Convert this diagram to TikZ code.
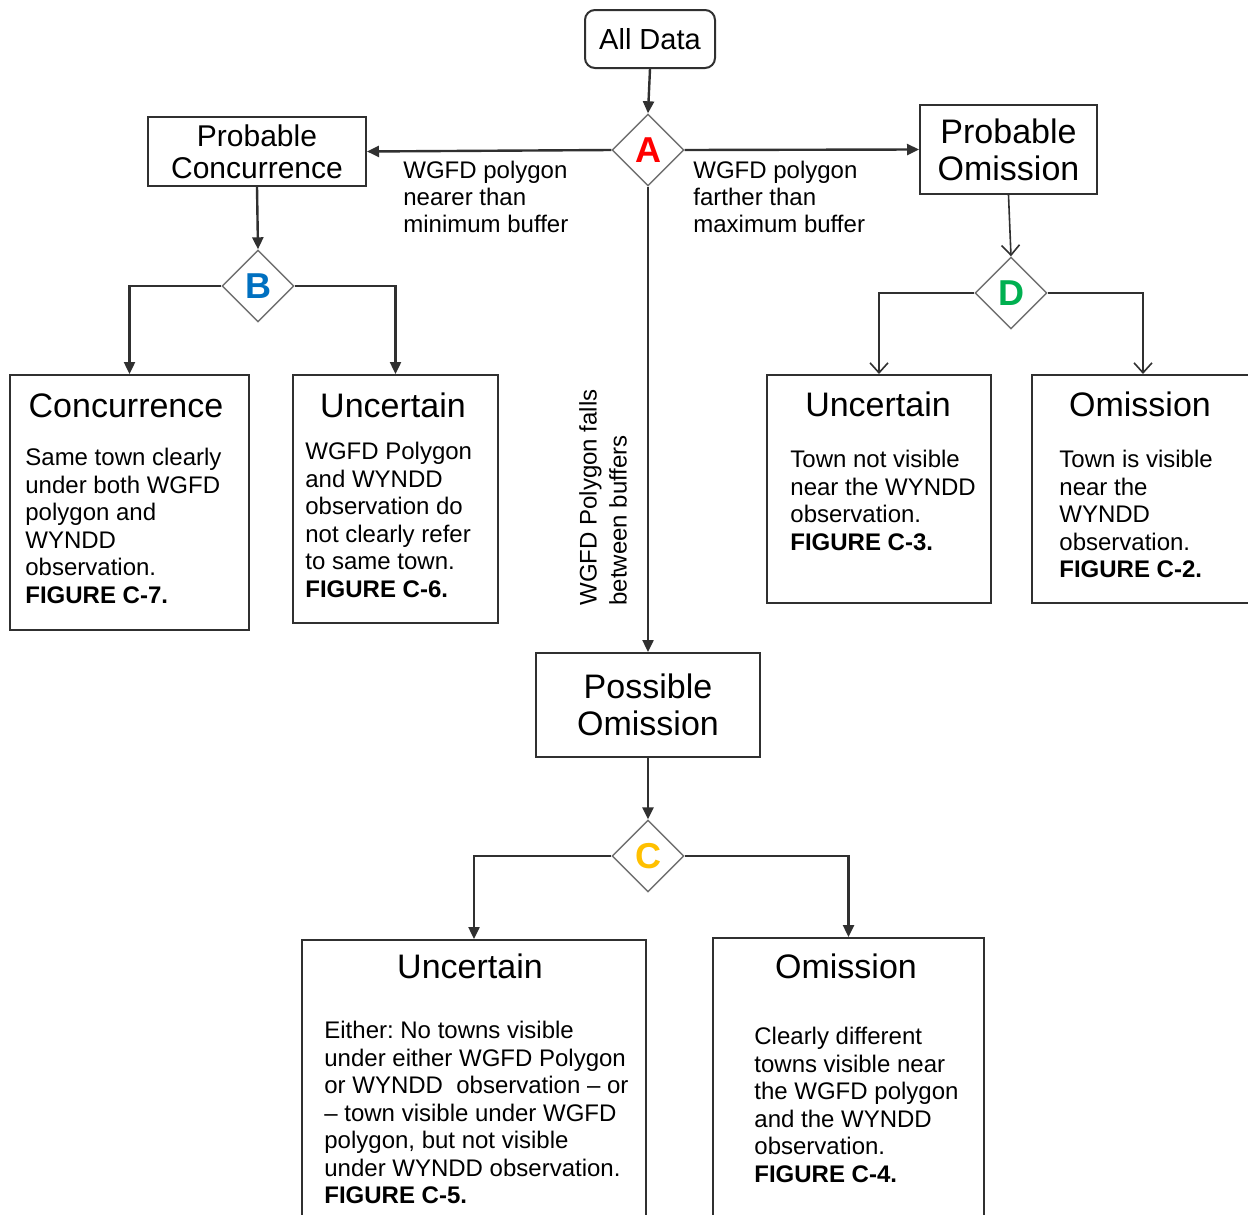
\documentclass[tikz,border=0pt]{standalone}
\usepackage{fontspec}
\setmainfont{Liberation Sans}
\usetikzlibrary{shapes.geometric,arrows.meta}
\definecolor{linec}{HTML}{303030}
\definecolor{boxc}{HTML}{303030}
\definecolor{diac}{HTML}{707070}
\definecolor{cA}{HTML}{FF0000}
\definecolor{cB}{HTML}{0070C0}
\definecolor{cC}{HTML}{FFC000}
\definecolor{cD}{HTML}{00B050}
\frenchspacing
\begin{document}
\begin{tikzpicture}[x=0.5pt,y=-0.5pt,
  box/.style={draw=boxc, line width=1pt, inner sep=0pt, align=center},
  dia/.style={diamond, draw=diac, line width=0.7pt, minimum width=36pt, minimum height=36pt, inner sep=0pt, font=\bfseries\fontsize{18}{18}\selectfont},
  arr/.style={draw=linec, line width=1.2pt, -{Triangle[length=6pt,width=5.5pt]}},
  barb/.style={draw=linec, line width=0.8pt, -{Straight Barb[length=5pt,width=9pt]}},
  ttl/.style={font=\fontsize{17}{20}\selectfont, anchor=base, inner sep=0pt},
  body/.style={font=\fontsize{12}{13.75}\selectfont, align=left, anchor=north west, inner sep=0pt},
  elbl/.style={font=\fontsize{12}{13.5}\selectfont, align=left, anchor=north west, inner sep=0pt}
]
\useasboundingbox (0,0) rectangle (1248,1215);
\clip (0,0) rectangle (1248,1215);
\fill[white] (0,0) rectangle (1248,1215);

% top
\node[box, rounded corners=5pt, minimum width=65pt, minimum height=29pt, font=\fontsize{14.5}{17}\selectfont] (alldata) at (650,39) {All Data};
\node[dia, text=cA] (A) at (648,150) {A};

\node[box, minimum width=109pt, minimum height=34.5pt, font=\fontsize{15}{16}\selectfont] (probconc) at (257,151.5) {Probable\\Concurrence};
\node[box, minimum width=88.5pt, minimum height=44.5pt, font=\fontsize{17}{18.5}\selectfont] (probom) at (1008.5,149.5) {Probable\\Omission};
\node[box, minimum width=112pt, minimum height=52pt, font=\fontsize{17}{18.5}\selectfont] (possom) at (648,705) {Possible\\Omission};

\node[elbl] (lnear) at (403,161) {WGFD polygon\\nearer than\\minimum buffer};
\node[elbl] (lfar) at (693,161) {WGFD polygon\\farther than\\maximum buffer};
\node[font=\fontsize{12}{15}\selectfont, align=left, inner sep=0pt, rotate=90, anchor=west] (lbetween) at (603,606) {WGFD Polygon falls\\between buffers};

% diamonds
\node[dia, text=cB] (B) at (258,286) {B};
\node[dia, text=cC] (C) at (648,856) {C};
\node[dia, text=cD] (D) at (1011,293) {D};

% result boxes
\node[box, minimum width=119.5pt, minimum height=127.5pt] (conc) at (129.5,502.5) {};
\node[box, minimum width=102.5pt, minimum height=124pt] (uncB) at (395.5,499) {};
\node[box, minimum width=112pt, minimum height=114pt] (uncD) at (879,489) {};
\node[box, minimum width=111pt, minimum height=114pt] (omD) at (1143,489) {};
\node[box, minimum width=172pt, minimum height=150pt] (uncC) at (474,1090) {};
\node[box, minimum width=135.5pt, minimum height=151pt] (omC) at (848.5,1089) {};

% titles
\node[ttl] (concT) at (126,417) {Concurrence};
\node[ttl] (uncBT) at (393,417) {Uncertain};
\node[ttl] (uncDT) at (878,416) {Uncertain};
\node[ttl] (omDT) at (1140,416) {Omission};
\node[ttl] (uncCT) at (470,978) {Uncertain};
\node[ttl] (omCT) at (846,978) {Omission};

% bodies
\node[body] (concB) at (25,448) {Same town clearly\\under both WGFD\\polygon and\\WYNDD\\observation.\\\textbf{FIGURE C-7.}};
\node[body] (uncBB) at (305,442) {WGFD Polygon\\and WYNDD\\observation do\\not clearly refer\\to same town.\\\textbf{FIGURE C-6.}};
\node[body] (uncDB) at (790,450) {Town not visible\\near the WYNDD\\observation.\\\textbf{FIGURE C-3.}};
\node[body] (omDB) at (1059,450) {Town is visible\\near the\\WYNDD\\observation.\\\textbf{FIGURE C-2.}};
\node[body] (uncCB) at (324,1021) {Either: No towns visible\\under either WGFD Polygon\\or WYNDD\ \ observation -- or\\-- town visible under WGFD\\polygon, but not visible\\under WYNDD observation.\\\textbf{FIGURE C-5.}};
\node[body] (omCB) at (754,1027) {Clearly different\\towns visible near\\the WGFD polygon\\and the WYNDD\\observation.\\\textbf{FIGURE C-4.}};

% connectors
\draw[arr] (alldata.south) -- (A.north);
\draw[arr] (A.west) -- (probconc.east);
\draw[arr] (A.east) -- (probom.west);
\draw[arr] (A.south) -- (possom.north);
\draw[arr] (probconc.south) -- (B.north);
\draw[arr] (B.west) -| (conc.north);
\draw[arr] (B.east) -| (uncB.north);
\draw[barb] (probom.south) -- (D.north);
\draw[barb] (D.west) -| (uncD.north);
\draw[barb] (D.east) -| (omD.north);
\draw[arr] (possom.south) -- (C.north);
\draw[arr] (C.west) -| (uncC.north);
\draw[arr] (C.east) -| (omC.north);
\end{tikzpicture}
\end{document}
